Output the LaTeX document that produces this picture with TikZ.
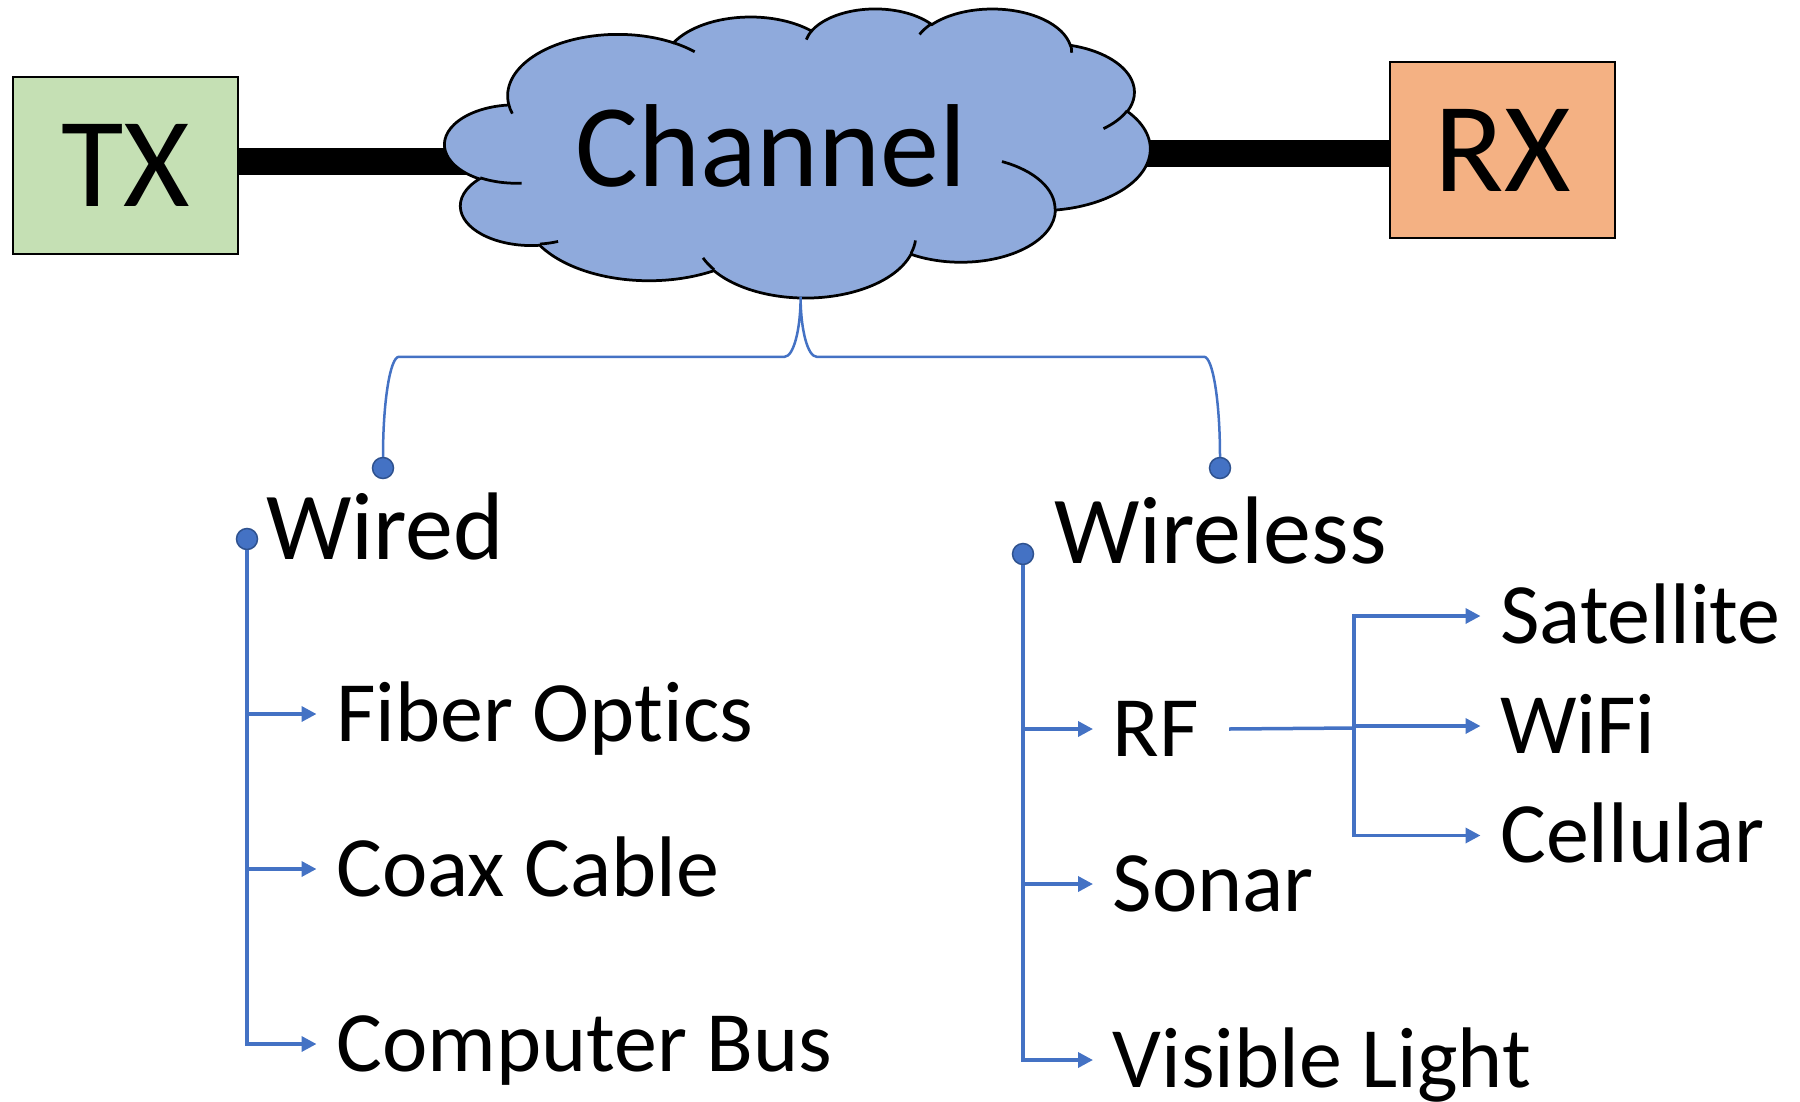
\documentclass[tikz,border=0pt]{standalone}
\usepackage{fontspec}
\setmainfont{Carlito}[Ligatures=NoCommon]
\usetikzlibrary{arrows.meta}

\definecolor{txgreen}{HTML}{C5E0B4}
\definecolor{rxorange}{HTML}{F4B183}
\definecolor{cloudblue}{HTML}{8FAADC}
\definecolor{lineblue}{HTML}{4472C4}
\definecolor{dotblue}{HTML}{2F528F}

% one puff of the cloud: x radius, y radius, start and sweep angle (as seen)
\newcommand\puff[4]{arc[x radius=#1, y radius=#2, start angle={atan2(#1*sin(#3),#2*cos(#3))}, delta angle={mod(atan2(#1*sin(#3+#4),#2*cos(#3+#4))-atan2(#1*sin(#3),#2*cos(#3))+720,360)}]}

\begin{document}
\begin{tikzpicture}[x=1pt, y=-1pt,
    box/.style={rectangle, draw, line width=2pt, minimum width=225pt, inner sep=0pt, font=\fontsize{128}{128}\selectfont},
    link/.style={line width=27pt},
    brace/.style={draw=lineblue, line width=2.5pt},
    bar/.style={draw=lineblue, line width=3.5pt},
    branch/.style={bar, -{Triangle[length=15pt,width=15pt]}},
    bullet/.style={circle, draw=dotblue, fill=lineblue, line width=1.5pt, minimum size=21pt, inner sep=0pt},
    head/.style={anchor=west, inner sep=0pt, text height=61pt, text depth=0pt, font=\fontsize{96}{96}\selectfont},
    item/.style={anchor=west, inner sep=0pt, text height=54pt, text depth=0pt, font=\fontsize{86}{86}\selectfont}]
    \useasboundingbox (0,0) rectangle (1800,1101);

    \node[box, fill=txgreen, minimum height=177pt] (tx) at (125.5,165.5) {TX};
    \node[box, fill=rxorange, minimum height=176pt] (rx) at (1502.5,150) {RX};

    \coordinate (chanL) at (600,161.5);
    \coordinate (chanR) at (1000,153.5);
    \draw[link] (tx.east |- chanL) -- (chanL);
    \draw[link] (chanR) -- (chanR -| rx.west);

    \begin{scope}[shift={(445,8)}, x=16.3194pt, y=-6.6898pt, line width=2.75pt]
        \filldraw[fill=cloudblue] (3.9,14.37) \puff{6.753}{9.19}{-190.48748}{123.78053}
            \puff{5.333}{7.267}{-144.10238}{89.94523} \puff{4.365}{5.945}{-145.80792}{99.72302}
            \puff{4.857}{6.595}{-130.98607}{117.24173} \puff{5.333}{7.273}{-78.70888}{109.02692}
            \puff{6.775}{9.22}{-46.26725}{130.269} \puff{5.785}{7.867}{0.62502}{114.03333}
            \puff{6.752}{9.215}{22.4516}{115.17255} \puff{7.72}{10.543}{66.24263}{75.71102}
            \puff{4.36}{5.918}{-274.94208}{146.73557} \puff{4.345}{5.945}{-246.8285}{152.51885} -- cycle;
        \draw (4.693,26.177) \puff{4.345}{5.945}{86.742}{26.4295}
            (6.928,34.899) \puff{4.36}{5.918}{73.61047}{11.44747}
            (16.478,39.09) \puff{6.752}{9.215}{137.62415}{14.0811}
            (28.827,34.751) \puff{6.752}{9.215}{6.45327}{15.99835}
            (34.129,22.954) \puff{5.785}{7.867}{-70.29235}{70.91737}
            (41.798,15.354) \puff{5.333}{7.273}{30.31803}{27.7515}
            (38.324,5.426) \puff{4.857}{6.595}{-13.74433}{14.8589}
            (29.078,3.952) \puff{4.857}{6.595}{-149.18145}{18.19537}
            (22.141,4.72) \puff{4.365}{5.945}{-163.49427}{17.68635}
            (14,5.192) \puff{6.753}{9.19}{-66.70695}{12.31935}
            (4.127,15.789) \puff{6.753}{9.19}{157.65435}{11.85817};
    \end{scope}
    \node[anchor=base, font=\fontsize{118}{118}\selectfont] (chan) at (771,186) {Channel};

    \node[bullet] (wiredend) at (383,468) {};
    \node[bullet] (wlessend) at (1220,468) {};
    \draw[brace] (wiredend.north) arc[start angle=180, end angle=270, x radius=16, y radius=100]
        -- ++(385.6,0) arc[start angle=90, end angle=0, x radius=16, y radius=60]
        arc[start angle=180, end angle=90, x radius=16, y radius=60]
        -- ++(387.4,0) arc[start angle=270, end angle=360, x radius=16, y radius=100];

    \node[bullet] (wiredtop) at (247,539) {};
    \node[head] (wired) at (266,529) {Wired};
    \node[item] (fiber) at (336,714) {Fiber Optics};
    \node[item] (coax) at (336,869) {Coax Cable};
    \node[item] (bus) at (336,1044) {Computer Bus};
    \draw[branch] (wiredtop.south) |- ([xshift=-19.5pt]bus.west);
    \draw[branch] (wiredtop |- fiber.west) -- ([xshift=-19.5pt]fiber.west);
    \draw[branch] (wiredtop |- coax.west) -- ([xshift=-19.5pt]coax.west);

    \node[bullet] (wlesstop) at (1023,554) {};
    \node[head] (wireless) at (1054,532.5) {Wireless};
    \node[item] (rf) at (1112.5,729) {RF};
    \node[item] (sonar) at (1112.5,884) {Sonar};
    \node[item] (light) at (1112.5,1060) {Visible Light};
    \draw[branch] (wlesstop.south) |- ([xshift=-19.5pt]light.west);
    \draw[branch] (wlesstop |- rf.west) -- ([xshift=-19.5pt]rf.west);
    \draw[branch] (wlesstop |- sonar.west) -- ([xshift=-19.5pt]sonar.west);

    \node[item] (sat) at (1500,616) {Satellite};
    \node[item] (wifi) at (1500,726) {WiFi};
    \node[item] (cell) at (1500,835.5) {Cellular};
    \coordinate (split) at (1354,728);
    \draw[bar] ([xshift=30pt]rf.east) -- (split);
    \draw[branch] (split) |- ([xshift=-19.5pt]sat.west);
    \draw[branch] (split) |- ([xshift=-19.5pt]cell.west);
    \draw[branch] (split |- wifi.west) -- ([xshift=-19.5pt]wifi.west);
\end{tikzpicture}
\end{document}
